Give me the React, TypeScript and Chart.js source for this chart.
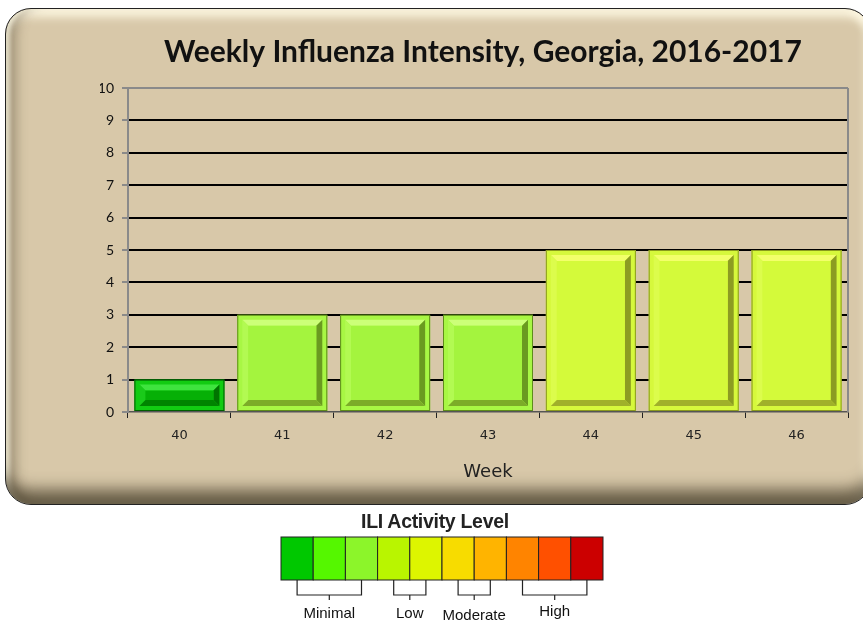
import React, { useEffect, useRef } from 'react';
import { Chart, registerables } from 'chart.js';

Chart.register(...registerables);

// ---- data ----
const weeks = ['40', '41', '42', '43', '44', '45', '46'];
const intensity = [1, 3, 3, 3, 5, 5, 5];
const yMin = 0;
const yMax = 10;
const yStep = 1;
const chartTitle = 'Weekly Influenza Intensity, Georgia, 2016-2017';
const xTitle = 'Week';
const legendTitle = 'ILI Activity Level';
const levels = [1, 2, 3, 4, 5, 6, 7, 8, 9, 10];
const groupLabels = ['Minimal', 'Low', 'Moderate', 'High'];
const groupStart = [1, 4, 6, 8];
const groupEnd = [3, 5, 7, 10];

// ---- styles ----
const levelColors = ['#00C800', '#55F700', '#8CF52A', '#B9F500', '#DDF500', '#F7DC00', '#FFB400', '#FF8400', '#FF5000', '#CC0000'];
type Pal = { rim: string; outline: string; face: string; top: string; left: string; right: string; bottom: string };
const barPalette: Record<number, Pal> = {
  1: { rim: '#12CC12', outline: '#005E00', face: '#06B006', top: '#3EE43E', left: '#1ACA1A', right: '#007400', bottom: '#008400' },
  3: { rim: '#A8F744', outline: '#5E8C1A', face: '#A4F43E', top: '#CCFF78', left: '#B2FA52', right: '#6A9A20', bottom: '#7CAC28' },
  5: { rim: '#D6F83C', outline: '#8A9A1E', face: '#D4FA3A', top: '#F2FF6A', left: '#DCFC4C', right: '#8C9C22', bottom: '#A0B02A' },
};
const palFor = (v: number): Pal => barPalette[v] || { rim: levelColors[v - 1], outline: '#444', face: levelColors[v - 1], top: levelColors[v - 1], left: levelColors[v - 1], right: '#666', bottom: '#777' };

const bevelPlugin = {
  id: 'bevel',
  afterDatasetsDraw(chart: any) {
    const meta = chart.getDatasetMeta(0);
    const ctx = chart.ctx as CanvasRenderingContext2D;
    ctx.save();
    meta.data.forEach((el: any, i: number) => {
      const { x, y, base, width } = el.getProps(['x', 'y', 'base', 'width'], true);
      const p = palFor(intensity[i]);
      const L = x - width / 2, R = x + width / 2;
      const T = Math.min(y, base), B = Math.max(y, base);
      ctx.fillStyle = p.rim;
      ctx.fillRect(L, T, R - L, B - T);
      ctx.strokeStyle = p.outline;
      ctx.lineWidth = 1;
      ctx.strokeRect(L + 0.5, T + 0.5, R - L - 1, B - T - 1);
      const r = 5, b = 6;
      const a = { l: L + r, r: R - r, t: T + r, b: B - r };
      const f = { l: a.l + b, r: a.r - b, t: a.t + b, b: a.b - b };
      const quad = (pts: number[][], c: string) => {
        ctx.beginPath();
        ctx.moveTo(pts[0][0], pts[0][1]);
        for (let k = 1; k < pts.length; k++) ctx.lineTo(pts[k][0], pts[k][1]);
        ctx.closePath();
        ctx.fillStyle = c;
        ctx.fill();
      };
      quad([[a.l, a.t], [a.r, a.t], [f.r, f.t], [f.l, f.t]], p.top);
      quad([[a.l, a.t], [f.l, f.t], [f.l, f.b], [a.l, a.b]], p.left);
      quad([[a.r, a.t], [a.r, a.b], [f.r, f.b], [f.r, f.t]], p.right);
      quad([[a.l, a.b], [a.r, a.b], [f.r, f.b], [f.l, f.b]], p.bottom);
      ctx.fillStyle = p.face;
      ctx.fillRect(f.l, f.t, f.r - f.l, f.b - f.t);
    });
    ctx.restore();
  },
};

const framePlugin = {
  id: 'frame',
  beforeDatasetsDraw(chart: any) {
    const { ctx, chartArea } = chart;
    ctx.save();
    ctx.strokeStyle = '#8A8A8A';
    ctx.lineWidth = 2;
    ctx.beginPath();
    ctx.moveTo(chartArea.right, chartArea.top);
    ctx.lineTo(chartArea.right, chartArea.bottom);
    ctx.stroke();
    ctx.restore();
  },
};

const titlePlugin = {
  id: 'customTitle',
  afterDraw(chart: any) {
    const { ctx, chartArea } = chart;
    ctx.save();
    ctx.font = 'bold 30px Lato, "Open Sans", sans-serif';
    ctx.fillStyle = '#111';
    ctx.textAlign = 'center';
    ctx.textBaseline = 'middle';
    ctx.fillText(chartTitle, (chartArea.left + chartArea.right) / 2 - 5, 52);
    ctx.restore();
  },
};

function ChartPanel() {
  const ref = useRef<HTMLCanvasElement | null>(null);
  useEffect(() => {
    if (!ref.current) return;
    const chart = new Chart(ref.current, {
      type: 'bar',
      data: {
        labels: weeks,
        datasets: [
          {
            data: intensity,
            backgroundColor: intensity.map((v) => palFor(v).rim),
            borderColor: intensity.map((v) => palFor(v).outline),
            borderWidth: 1,
            barPercentage: 0.875,
            categoryPercentage: 1,
          },
        ],
      },
      options: {
        animation: false,
        responsive: false,
        maintainAspectRatio: false,
        layout: { padding: { left: 100, right: 15, top: 88, bottom: 0 } },
        plugins: { legend: { display: false }, title: { display: false }, tooltip: { enabled: false } },
        scales: {
          x: {
            afterFit: (s: any) => { s.height = 98; },
            grid: { display: true, drawOnChartArea: false, drawTicks: true, tickLength: 6, color: '#222', tickColor: '#222', lineWidth: 1 },
            border: { display: true, color: '#555', width: 1.5 },
            ticks: { color: '#222', font: { family: '"DejaVu Sans", sans-serif', size: 13 }, padding: 10 },
            title: { display: true, text: xTitle, color: '#222', font: { family: '"DejaVu Sans", sans-serif', size: 18 }, padding: { top: 0, bottom: 27 } },
          },
          y: {
            min: yMin,
            max: yMax,
            afterFit: (s: any) => { s.width = 28; },
            ticks: { stepSize: yStep, color: '#111', font: { family: 'Lato, sans-serif', size: 14 }, padding: 8 },
            grid: {
              drawTicks: true,
              tickLength: 6,
              tickColor: '#8A8A8A',
              color: (c: any) => (c.tick && c.tick.value === yMin ? 'rgba(0,0,0,0)' : c.tick && c.tick.value === yMax ? '#8A8A8A' : '#000'),
              lineWidth: 2,
            },
            border: { display: true, color: '#8A8A8A', width: 2 },
          },
        },
      },
      plugins: [framePlugin, bevelPlugin, titlePlugin],
    } as any);
    return () => chart.destroy();
  }, []);
  return <canvas ref={ref} width={863} height={510} style={{ position: 'absolute', left: 0, top: 0, width: 863, height: 510 }} />;
}

function Legend() {
  const left = 281;
  const boxW = 32.2;
  const top = 537;
  const h = 43;
  const center = (lv: number) => left + boxW * (lv - 0.5);
  return (
    <svg width={863} height={621} style={{ position: 'absolute', left: 0, top: 0 }}>
      <text x={435} y={528} textAnchor="middle" fontFamily="'Liberation Sans', Arial, sans-serif" fontWeight="bold" fontSize={19.5} letterSpacing={-0.3} fill="#222">
        {legendTitle}
      </text>
      {levels.map((lv, i) => (
        <rect key={lv} x={left + boxW * i} y={top} width={boxW} height={h} fill={levelColors[i]} stroke="#222" strokeWidth={1} />
      ))}
      {groupLabels.map((g, i) => {
        const x1 = center(groupStart[i]);
        const x2 = center(groupEnd[i]);
        const mid = (x1 + x2) / 2;
        return (
          <g key={g} stroke="#222" strokeWidth={1.2} fill="none">
            <polyline points={`${x1},${top + h} ${x1},${top + h + 15} ${x2},${top + h + 15} ${x2},${top + h}`} />
            <line x1={mid} y1={top + h + 15} x2={mid} y2={top + h + 20} />
            <text x={mid} y={i === 2 ? 620 : i === 3 ? 616 : 618} textAnchor="middle" stroke="none" fill="#111" fontFamily="'Liberation Sans', Arial, sans-serif" fontSize={15}>
              {g}
            </text>
          </g>
        );
      })}
    </svg>
  );
}

export default function App() {
  return (
    <div style={{ position: 'fixed', left: 0, top: 0, width: 863, height: 621, overflow: 'hidden', background: '#fff' }}>
      <div
        style={{
          position: 'absolute',
          left: 5,
          top: 8,
          width: 864,
          height: 495,
          border: '1.5px solid #222',
          borderRadius: 26,
          background: '#D8C8A9',
          boxShadow:
            'inset 0 -24px 16px -10px rgba(80,70,50,0.85), inset 5px 0 4px -1px rgba(255,250,228,0.8), inset 18px 0 12px -8px rgba(90,80,60,0.45), inset 0 12px 10px -4px rgba(255,250,228,0.9), inset -8px 0 8px -3px rgba(255,250,228,0.8)',
        }}
      />
      <ChartPanel />
      <Legend />
    </div>
  );
}
